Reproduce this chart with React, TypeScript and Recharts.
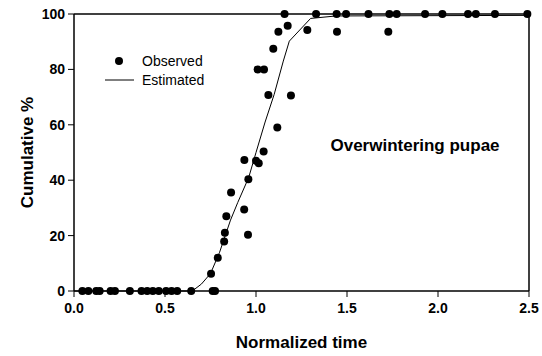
import React from 'react';
import { ScatterChart, Scatter, XAxis, YAxis, ReferenceLine, Label } from 'recharts';

const observedX = [
  0.046, 0.079, 0.122, 0.141, 0.201, 0.225, 0.307, 0.371, 0.402, 0.433, 0.466, 0.506, 0.536, 0.567, 0.644, 0.762, 0.775,
  0.753, 0.79, 0.825, 0.829, 0.837, 0.863, 0.935, 0.956, 0.958, 0.936, 1.0, 1.015, 1.042, 1.117, 1.068, 1.192,
  1.009, 1.044, 1.095, 1.123, 1.174, 1.282, 1.445, 1.727,
  1.157, 1.33, 1.443, 1.495, 1.618, 1.733, 1.773, 1.929, 2.024, 2.165, 2.208, 2.313, 2.491,
];
const observedY = [
  0, 0, 0, 0, 0, 0, 0, 0, 0, 0, 0, 0, 0, 0, 0, 0, 0,
  6.2, 12, 17.9, 21, 27, 35.6, 29.4, 20.3, 40.3, 47.3, 47, 46.1, 50.4, 59, 70.8, 70.6,
  80, 80, 87.5, 93.6, 95.8, 94.2, 93.6, 93.6,
  100, 100, 100, 100, 100, 100, 100, 100, 100, 100, 100, 100, 100,
];

const estimatedX = [0, 0.65, 0.7, 0.75, 0.8, 0.86, 0.9, 0.96, 1.0, 1.05, 1.1, 1.15, 1.183, 1.3, 1.44, 2.5];
const estimatedY = [0, 0, 2.5, 6.3, 14, 25.6, 32, 41, 50, 61, 71, 83, 90.2, 98.4, 99.3, 99.5];

const xTicks = [0, 0.5, 1.0, 1.5, 2.0, 2.5];
const yTicks = [0, 20, 40, 60, 80, 100];

const observed = observedX.map((x, i) => ({ x, y: observedY[i] }));
const estimated = estimatedX.map((x, i) => ({ x, y: estimatedY[i] }));

const FONT = '"Liberation Sans", Arial, Helvetica, sans-serif';

const Dot = (props: any) => <circle cx={props.cx} cy={props.cy} r={4} fill="#000" />;
const NoDot = () => <g />;

export default function App() {
  return (
    <div style={{ position: 'absolute', left: 0, top: 0, width: 542, height: 356, background: '#fff', fontFamily: FONT }}>
      <ScatterChart width={542} height={356} margin={{ top: 14, right: 13, bottom: 5, left: 0 }} style={{ fontFamily: FONT }}>
        <XAxis
          type="number"
          dataKey="x"
          domain={[0, 2.5]}
          ticks={xTicks}
          tickFormatter={(v: number) => v.toFixed(1)}
          height={60}
          tickSize={6}
          tickMargin={6}
          axisLine={{ stroke: '#000', strokeWidth: 1.5 }}
          tickLine={{ stroke: '#000', strokeWidth: 1 }}
          tick={{ fill: '#000', fontSize: 14, fontWeight: 'bold', fontFamily: FONT }}
        >
          <Label value="Normalized time" position="insideBottom" offset={3} style={{ fill: '#000', fontSize: 17, fontWeight: 'bold', fontFamily: FONT }} />
        </XAxis>
        <YAxis
          type="number"
          dataKey="y"
          domain={[0, 100]}
          ticks={yTicks}
          width={74}
          tickSize={6}
          tickMargin={3}
          axisLine={{ stroke: '#000', strokeWidth: 1.5 }}
          tickLine={{ stroke: '#000', strokeWidth: 1 }}
          tick={{ fill: '#000', fontSize: 14, fontWeight: 'bold', fontFamily: FONT }}
        >
          <Label
            content={(p: any) => {
              const vb = p.viewBox || { x: 0, y: 0, width: 74, height: 277 };
              const cx = vb.x + 27;
              const cy = vb.y + vb.height / 2;
              return (
                <text x={cx} y={cy} transform={`rotate(-90 ${cx} ${cy})`} textAnchor="middle" dominantBaseline="central"
                  style={{ fill: '#000', fontSize: 17, fontWeight: 'bold', fontFamily: FONT }}>
                  Cumulative %
                </text>
              );
            }}
          />
        </YAxis>
        <ReferenceLine y={100} stroke="#000" strokeWidth={1.5} />
        <ReferenceLine x={2.5} stroke="#000" strokeWidth={1.5} />
        <Scatter data={estimated} line={{ stroke: '#000', strokeWidth: 1 }} lineType="joint" shape={NoDot} isAnimationActive={false} />
        <Scatter data={observed} shape={Dot} isAnimationActive={false} />
      </ScatterChart>
      <div style={{ position: 'absolute', left: 100, top: 50, width: 130, height: 42 }}>
        <svg width={130} height={42}>
          <circle cx={19} cy={11} r={4} fill="#000" />
          <line x1={5} y1={30} x2={34} y2={30} stroke="#000" strokeWidth={1} />
          <text x={42} y={11} dominantBaseline="central" style={{ fill: '#000', fontSize: 14, fontFamily: FONT }}>Observed</text>
          <text x={42} y={30} dominantBaseline="central" style={{ fill: '#000', fontSize: 14, fontFamily: FONT }}>Estimated</text>
        </svg>
      </div>
      <div style={{ position: 'absolute', left: 315, top: 136, width: 200, textAlign: 'center', fontSize: 17, fontWeight: 'bold', color: '#000', lineHeight: '20px', fontFamily: FONT }}>
        Overwintering pupae
      </div>
    </div>
  );
}
